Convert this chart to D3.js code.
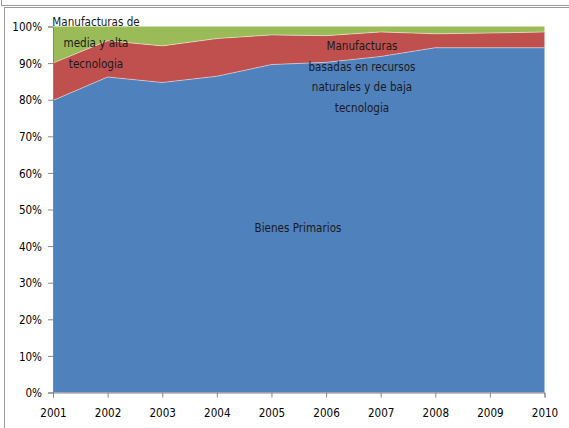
<!DOCTYPE html>
<html><head><meta charset="utf-8">
<script src="https://cdn.jsdelivr.net/npm/d3@7"></script>
<style>
body{margin:0;background:#fff;}
svg text{font-family:"Liberation Sans Narrow","DejaVu Sans Condensed","Arial Narrow",sans-serif;}
</style></head>
<body><svg id="c" width="569" height="428"></svg>
<script>
const years = [2001,2002,2003,2004,2005,2006,2007,2008,2009,2010];
const bienesPrimarios = [79.8,86.2,84.7,86.4,89.6,90.2,91.8,94.2,94.2,94.2];
const manufRecursos = [10.2,9.9,10.0,10.3,8.1,7.3,6.7,3.8,4.0,4.3];
const manufMediaAlta = [10.0,3.9,5.3,3.3,2.3,2.5,1.5,2.0,1.8,1.5];
const yTicks = [0,10,20,30,40,50,60,70,80,90,100];
const colors = ["#4F81BD","#C0504D","#9BBB59"];
const SX = 0.89;

const svg = d3.select("#c");
// outer frame lines
svg.append("line").attr("x1",1.5).attr("y1",0).attr("x2",1.5).attr("y2",6).attr("stroke","#9a9a9a");
svg.append("line").attr("x1",1).attr("y1",5.5).attr("x2",569).attr("y2",5.5).attr("stroke","#9a9a9a");
svg.append("line").attr("x1",4).attr("y1",7.5).attr("x2",569).attr("y2",7.5).attr("stroke","#9a9a9a");
svg.append("line").attr("x1",4.5).attr("y1",7.5).attr("x2",4.5).attr("y2",428).attr("stroke","#9a9a9a");

const x = d3.scalePoint().domain(years).range([53,544.5]);
const y = d3.scaleLinear().domain([0,100]).range([392.5,26.5]);

const data = years.map((yr,i)=>({year:yr,a:bienesPrimarios[i],b:manufRecursos[i],c:manufMediaAlta[i]}));
const layers = d3.stack().keys(["a","b","c"])(data);
const area = d3.area().x(d=>x(d.data.year)).y0(d=>y(d[0])).y1(d=>y(d[1]));
const topLine = d3.line().x(d=>x(d.data.year)).y(d=>y(d[1]));

svg.append("g").selectAll("path").data(layers).join("path")
  .attr("d",area).attr("fill",(d,i)=>colors[i]);
svg.append("g").selectAll("path").data(layers.slice(0,2)).join("path")
  .attr("d",topLine).attr("fill","none").attr("stroke","#ffffff").attr("stroke-opacity",0.45).attr("stroke-width",1);

// axes
const yAxis = d3.axisLeft(y).tickValues(yTicks).tickFormat(d=>d+"%").tickSize(5).tickPadding(6);
const gy = svg.append("g").attr("transform","translate(53,0)").call(yAxis);
gy.select(".domain").attr("stroke","#868686");
gy.selectAll(".tick line").attr("stroke","#868686");
gy.selectAll("text").attr("font-size","13px").attr("fill","#000").attr("font-family",null)
  .attr("x",-11/SX).attr("transform",`scale(${SX},1)`);

const xAxis = d3.axisBottom(x).tickSize(5).tickPadding(10).tickFormat(d3.format("d"));
const gx = svg.append("g").attr("transform","translate(0,392.5)").call(xAxis);
gx.select(".domain").attr("stroke","#868686");
gx.selectAll(".tick line").attr("stroke","#868686");
gx.selectAll("text").attr("font-size","13px").attr("fill","#000").attr("font-family",null)
  .attr("transform",`scale(${SX},1)`);

// series labels
function label(lines, cx, y0, dy){
  lines.forEach((l,i)=>{
    svg.append("text").attr("text-anchor","middle").attr("font-size","13px").attr("fill","#1a1a1a")
      .attr("transform",`translate(${cx},${y0+i*dy}) scale(${SX},1)`).text(l);
  });
}
label(["Manufacturas de","media y alta","tecnologia"],96,26,21);
label(["Manufacturas","basadas en recursos","naturales y de baja","tecnologia"],362,50,20.7);
label(["Bienes Primarios"],298,232,0);
</script></body></html>
